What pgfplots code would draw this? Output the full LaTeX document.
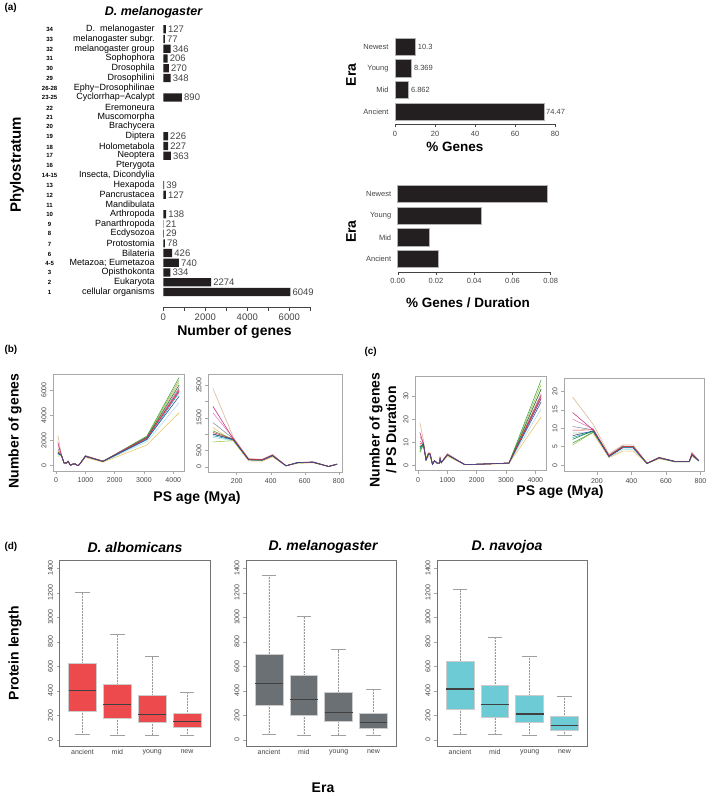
\documentclass[border=0pt]{standalone}
\usepackage{pgfplots}
\pgfplotsset{compat=1.18}
\usepackage{pgfplotstable}
\usepgfplotslibrary{statistics}
\usepackage{fontspec}
\setmainfont{Liberation Sans}
\newcommand{\ft}[1]{\fontsize{#1}{#1}\selectfont}
\newcommand{\pl}[2]{\makebox[14pt][c]{\ft{6}\bfseries #1}\makebox[98pt][r]{\ft{9}#2}}
\definecolor{barblk}{HTML}{231F20}
\definecolor{tickgray}{HTML}{444444}
\definecolor{framegray}{HTML}{A8A8A8}
\definecolor{boxred}{HTML}{EC4A4C}
\definecolor{boxgray}{HTML}{6A7073}
\definecolor{boxcyan}{HTML}{6CCBD4}
\definecolor{c1}{HTML}{D9B38C}
\definecolor{c2}{HTML}{C2307F}
\definecolor{c3}{HTML}{E07BBE}
\definecolor{c4}{HTML}{8090A8}
\definecolor{c5}{HTML}{3FA34D}
\definecolor{c6}{HTML}{9BC53D}
\definecolor{c7}{HTML}{A6DCEB}
\definecolor{c8}{HTML}{F0C05A}
\definecolor{c9}{HTML}{1FA5B0}
\definecolor{c10}{HTML}{1E7B3A}
\definecolor{c11}{HTML}{2B4A9B}
\definecolor{c12}{HTML}{E0302E}

\pgfplotstableread{
y v lab
1 6049 6049
2 2274 2274
3 334 334
4 740 740
5 426 426
6 78 78
7 29 29
8 21 21
9 138 138
11 127 127
12 39 39
15 363 363
16 227 227
17 226 226
21 890 890
23 348 348
24 270 270
25 206 206
26 346 346
27 77 77
28 127 127
}\phylo

\pgfplotstableread{
y v lab
1 74.47 74.47
2 6.862 6.862
3 8.369 8.369
4 10.3 10.3
}\pcgenes

\pgfplotstableread{
y v
1 0.0214
2 0.0166
3 0.0436
4 0.0783
}\pcdur

\pgfplotstableread{
x s1 s2 s3 s4 s5 s6 s7 s8 s9 s10 s11 s12
60 2400 1850 1650 1350 1100 760 900 1200 950 1000 1000 1050
180 900 850 880 860 840 800 800 780 820 840 830 850
270 250 220 230 240 220 210 200 180 220 220 210 230
350 230 220 210 220 210 200 190 170 210 210 200 210
410 380 350 360 360 340 330 320 300 340 350 340 350
490 35 30 30 30 30 30 28 25 30 30 30 30
560 140 130 130 130 120 120 120 110 125 130 130 130
650 150 140 150 140 130 130 130 120 135 140 140 140
740 10 10 10 10 10 10 10 8 10 10 10 10
790 90 80 80 80 75 75 75 70 80 80 80 80
1000 820 760 780 770 740 720 700 650 730 750 750 760
1600 380 350 360 350 340 340 320 280 330 350 340 350
3100 2300 2200 2250 2150 2350 2300 1900 1650 2050 2250 2100 2200
4200 6600 5900 6200 6100 7000 6800 5000 4200 5800 6400 5500 6000
}\tbb

\pgfplotstableread{
x s1 s2 s3 s4 s5 s6 s7 s8 s9 s10 s11 s12
60 18.5 14.3 12.5 10.5 6 5.5 9 8.5 7.5 7 8 9.5
180 11 9.5 9.8 9.6 9 9 8.8 8.5 9.2 9.4 9.3 9.6
270 3 2.5 2.6 2.7 2.4 2.5 2.2 2 2.4 2.5 2.3 2.5
350 5.5 5 5 5.2 4.8 5 4.2 3.8 4.8 5 4.7 5
410 5.5 5 5 5.1 4.8 5 4.3 3.8 4.8 5 4.7 5
490 0.5 0.5 0.5 0.5 0.4 0.5 0.4 0.4 0.5 0.5 0.4 0.5
560 2.2 2 2 2 1.9 2 1.8 1.7 2 2 2 2
650 1.1 1 1 1 0.9 1 0.9 0.9 1 1 1 1
735 1.1 1 1 1 0.9 1 0.9 0.9 1 1 1 1
750 3.5 3.2 3 2.9 2.7 2.8 2.5 2.4 2.8 2.9 2.8 3
790 1.3 1.2 1.2 1.2 1.1 1.2 1.1 1.1 1.2 1.2 1.2 1.2
1000 5.2 4.6 4.8 4.7 4.5 4.6 4.3 4.0 4.5 4.6 4.6 4.7
1600 0.3 0.3 0.3 0.3 0.3 0.3 0.3 0.2 0.3 0.3 0.3 0.3
3100 1.0 1.0 1.0 1.0 1.0 1.0 0.9 0.8 1.0 1.0 1.0 1.0
4200 33 29 31 30.5 37 35 24.5 21 29 33 27.5 30
}\tbc

\pgfplotsset{
 rline/.style={scale only axis, anchor=south west,
  axis line style={framegray, line width=0.5pt},
  tick align=outside, xtick pos=left, ytick pos=left,
  major tick length=3pt, tick style={framegray, line width=0.5pt},
  ticklabel style={font=\ft{7}, tickgray},
  yticklabel style={rotate=90, anchor=south},
  /pgf/number format/assume math mode=true,
  /pgf/number format/1000 sep={}},
 era/.style={scale only axis, anchor=south west, xbar,
  axis x line*=bottom, axis y line*=left,
  y axis line style={draw=none}, ytick style={draw=none},
  x axis line style={tickgray, line width=0.4pt},
  xtick style={tickgray, line width=0.4pt},
  tick align=outside, major tick length=3pt,
  ytick={1,2,3,4}, yticklabels={Ancient,Mid,Young,Newest},
  ticklabel style={font=\ft{7.5}, tickgray},
  scaled x ticks=false,
  /pgf/number format/assume math mode=true, clip=false},
 dbox/.style={scale only axis, anchor=south west, width=150.5pt, height=186pt,
  xmin=0.34, xmax=4.66, ymin=-56, ymax=1460,
  xtick={1,2,3,4}, xticklabels={ancient,mid,young,new},
  ytick={0,200,...,1400}, tick align=outside, ytick pos=left, xtick pos=left,
  xtick style={draw=none}, ytick style={gray!70},
  major tick length=3pt, axis line style={black!55, line width=0.7pt},
  ticklabel style={font=\ft{7}, tickgray},
  yticklabel style={rotate=90, anchor=south},
  xticklabel style={yshift=3.5pt},
  /pgf/number format/assume math mode=true,
  /pgf/number format/1000 sep={},
  boxplot/draw direction=y, boxplot/box extend=0.8,
  boxplot/whisker extend=0,
  boxplot/every whisker/.style={densely dotted, gray!80, line width=0.5pt},
  boxplot/every median/.style={line width=1.2pt, black!75},
  boxplot/every box/.style={draw=gray!40, line width=0.6pt}},
}

\begin{document}
\begin{tikzpicture}
\useasboundingbox (0pt,0pt) rectangle (709pt,-794pt);

% ---------- (a) left
\begin{axis}[scale only axis, anchor=south west, at={(163.3pt,-307pt)},
  width=147pt, height=284.5pt, xmin=0, xmax=7000, ymin=-0.54, ymax=28.7,
  xbar, bar width=8.2pt,
  axis x line*=bottom, axis y line*=left,
  y axis line style={draw=none}, ytick style={draw=none},
  x axis line style={tickgray, line width=0.4pt},
  xtick style={tickgray, line width=0.4pt},
  tick align=outside, major tick length=3.5pt,
  xtick={0,1000,...,7000}, xticklabels={0,,2000,,4000,,6000,},
  xticklabel style={font=\ft{9.5}, tickgray},
  ytick={1,...,28},
  yticklabels={\pl{1}{cellular organisms},\pl{2}{Eukaryota},\pl{3}{Opisthokonta},
   \pl{4-5}{Metazoa; Eumetazoa},\pl{6}{Bilateria},\pl{7}{Protostomia},\pl{8}{Ecdysozoa},
   \pl{9}{Panarthropoda},\pl{10}{Arthropoda},\pl{11}{Mandibulata},\pl{12}{Pancrustacea},
   \pl{13}{Hexapoda},{\pl{14-15}{Insecta, Dicondylia}},\pl{16}{Pterygota},\pl{17}{Neoptera},
   \pl{18}{Holometabola},\pl{19}{Diptera},\pl{20}{Brachycera},\pl{21}{Muscomorpha},
   \pl{22}{Eremoneura},\pl{23-25}{Cyclorrhap−Acalypt},\pl{26-28}{Ephy−Drosophilinae},
   \pl{29}{Drosophilini},\pl{30}{Drosophila},\pl{31}{Sophophora},\pl{32}{melanogaster group},
   \pl{33}{melanogaster subgr.},\pl{34}{D.\ \ melanogaster}},
  yticklabel style={inner sep=0pt, xshift=-5pt},
  /pgf/number format/assume math mode=true, clip=false]
\addplot[fill=barblk, draw=none, nodes near coords, nodes near coords align={horizontal},
  point meta=explicit symbolic,
  nodes near coords style={font=\ft{9.5}, text=tickgray, anchor=west, inner sep=2pt}]
  table[x=v, y=y, meta=lab] {\phylo};
\end{axis}

% ---------- (a) right top
\begin{axis}[era, at={(395pt,-124.3pt)}, width=160pt, height=90.6pt,
  xmin=0, xmax=80, ymin=0.42, ymax=4.6, bar width=17.3pt,
  xtick={0,20,...,80}]
\addplot[fill=barblk, draw=gray!60, line width=0.6pt, nodes near coords,
  nodes near coords align={horizontal}, point meta=explicit symbolic,
  nodes near coords style={font=\ft{7.5}, text=tickgray, anchor=west, inner sep=2pt}]
  table[x=v, y=y, meta=lab] {\pcgenes};
\end{axis}

% ---------- (a) right bottom
\begin{axis}[era, at={(397.7pt,-271.7pt)}, width=153pt, height=90.7pt,
  xmin=0, xmax=0.08, ymin=0.414, ymax=4.6, bar width=17.3pt,
  xtick={0,0.02,0.04,0.06,0.08},
  xticklabels={0.00,0.02,0.04,0.06,0.08}]
\addplot[fill=barblk, draw=gray!60, line width=0.6pt] table[x=v, y=y] {\pcdur};
\end{axis}

% ---------- (b) left
\begin{axis}[rline, at={(53pt,-471pt)}, width=131pt, height=97pt,
  xmin=-106, xmax=4366, ymin=-420, ymax=7270,
  xtick={0,1000,...,4000}, ytick={0,2000,4000,6000}]
\pgfplotsinvokeforeach{7,8,1,6,5,3,4,9,10,2,12,11}{
  \addplot[c#1, line width=0.55pt] table[x=x, y=s#1] {\tbb};}
\end{axis}

% ---------- (b) right
\begin{axis}[rline, at={(208pt,-472pt)}, width=134pt, height=98pt,
  xmin=31, xmax=819, ymin=-160, ymax=2840,
  xtick={200,400,600,800}, ytick={0,500,...,2500},
  yticklabels={0,500,,1500,,2500}, restrict x to domain=0:800]
\pgfplotsinvokeforeach{7,8,1,6,5,3,4,9,10,2,12,11}{
  \addplot[c#1, line width=0.55pt] table[x=x, y=s#1] {\tbb};}
\end{axis}

% ---------- (c) left
\begin{axis}[rline, at={(415pt,-470.7pt)}, width=131pt, height=94pt,
  xmin=-106, xmax=4366, ymin=-2.3, ymax=38.4,
  xtick={0,1000,...,4000}, ytick={0,10,20,30}]
\pgfplotsinvokeforeach{7,8,1,6,5,3,4,9,10,2,12,11}{
  \addplot[c#1, line width=0.55pt] table[x=x, y=s#1] {\tbc};}
\end{axis}

% ---------- (c) right
\begin{axis}[rline, at={(564pt,-471.7pt)}, width=140pt, height=93.7pt,
  xmin=10, xmax=820, ymin=-1.8, ymax=23.7,
  xtick={200,400,600,800}, ytick={0,5,...,20}, restrict x to domain=0:800]
\pgfplotsinvokeforeach{7,8,1,6,5,3,4,9,10,2,12,11}{
  \addplot[c#1, line width=0.55pt] table[x=x, y=s#1] {\tbc};}
\end{axis}

% ---------- (d) albomicans
\begin{axis}[dbox, at={(59.5pt,-746.7pt)}]
\addplot[fill=boxred, boxplot prepared={draw position=1, lower whisker=46, lower quartile=235, median=401, upper quartile=622, upper whisker=1200}] coordinates {};
\addplot[fill=boxred, boxplot prepared={draw position=2, lower whisker=41, lower quartile=177, median=286, upper quartile=450, upper whisker=859}] coordinates {};
\addplot[fill=boxred, boxplot prepared={draw position=3, lower whisker=41, lower quartile=145, median=205, upper quartile=360, upper whisker=679}] coordinates {};
\addplot[fill=boxred, boxplot prepared={draw position=4, lower whisker=41, lower quartile=101, median=147, upper quartile=215, upper whisker=390}] coordinates {};
\addplot[only marks, mark=-, mark size=7.2pt, mark options={gray!75, line width=0.6pt}]
  coordinates {(1,1200)(1,46)(2,859)(2,41)(3,679)(3,41)(4,390)(4,41)};
\end{axis}

% ---------- (d) melanogaster
\begin{axis}[dbox, at={(246pt,-746.7pt)}]
\addplot[fill=boxgray, boxplot prepared={draw position=1, lower whisker=46, lower quartile=281, median=458, upper quartile=701, upper whisker=1344}] coordinates {};
\addplot[fill=boxgray, boxplot prepared={draw position=2, lower whisker=38, lower quartile=199, median=327, upper quartile=524, upper whisker=1006}] coordinates {};
\addplot[fill=boxgray, boxplot prepared={draw position=3, lower whisker=38, lower quartile=155, median=226, upper quartile=390, upper whisker=736}] coordinates {};
\addplot[fill=boxgray, boxplot prepared={draw position=4, lower whisker=35, lower quartile=90, median=139, upper quartile=215, upper whisker=409}] coordinates {};
\addplot[only marks, mark=-, mark size=7.2pt, mark options={gray!75, line width=0.6pt}]
  coordinates {(1,1344)(1,46)(2,1006)(2,38)(3,736)(3,38)(4,409)(4,35)};
\end{axis}

% ---------- (d) navojoa
\begin{axis}[dbox, at={(437pt,-746.7pt)}]
\addplot[fill=boxcyan, boxplot prepared={draw position=1, lower whisker=46, lower quartile=251, median=415, upper quartile=644, upper whisker=1227}] coordinates {};
\addplot[fill=boxcyan, boxplot prepared={draw position=2, lower whisker=49, lower quartile=180, median=286, upper quartile=445, upper whisker=832}] coordinates {};
\addplot[fill=boxcyan, boxplot prepared={draw position=3, lower whisker=41, lower quartile=139, median=210, upper quartile=360, upper whisker=682}] coordinates {};
\addplot[fill=boxcyan, boxplot prepared={draw position=4, lower whisker=41, lower quartile=79, median=117, upper quartile=191, upper whisker=355}] coordinates {};
\addplot[only marks, mark=-, mark size=7.2pt, mark options={gray!75, line width=0.6pt}]
  coordinates {(1,1227)(1,46)(2,832)(2,49)(3,682)(3,41)(4,355)(4,41)};
\end{axis}

% ---------- texts
\node[font=\ft{10}\bfseries, anchor=west] at (1pt,-8pt) {(a)};
\node[font=\ft{12.5}\bfseries\itshape] at (153.5pt,-12pt) {D. melanogaster};
\node[font=\ft{15}\bfseries, rotate=90] at (17pt,-165pt) {Phylostratum};
\node[font=\ft{14}\bfseries] at (234.5pt,-332pt) {Number of genes};
\node[font=\ft{14}\bfseries, rotate=90] at (351pt,-75pt) {Era};
\node[font=\ft{13.5}\bfseries] at (455pt,-146.7pt) {\% Genes};
\node[font=\ft{14}\bfseries, rotate=90] at (351pt,-231.7pt) {Era};
\node[font=\ft{13.5}\bfseries] at (468pt,-302.7pt) {\% Genes / Duration};

\node[font=\ft{10}\bfseries, anchor=west] at (1pt,-350pt) {(b)};
\node[font=\ft{14}\bfseries, rotate=90] at (15pt,-431pt) {Number of genes};
\node[font=\ft{14}\bfseries] at (197pt,-498pt) {PS age (Mya)};

\node[font=\ft{10}\bfseries, anchor=west] at (361pt,-351.7pt) {(c)};
\node[font=\fontsize{14}{16.5}\selectfont\bfseries, rotate=90, align=center] at (383pt,-430pt) {Number of genes\\/ PS Duration};
\node[font=\ft{14}\bfseries] at (560pt,-491.7pt) {PS age (Mya)};

\node[font=\ft{10}\bfseries, anchor=west] at (1pt,-547pt) {(d)};
\node[font=\ft{14}\bfseries\itshape] at (135pt,-547pt) {D. albomicans};
\node[font=\ft{14}\bfseries\itshape] at (323pt,-547pt) {D. melanogaster};
\node[font=\ft{14}\bfseries\itshape] at (507pt,-547pt) {D. navojoa};
\node[font=\ft{14}\bfseries, rotate=90] at (15pt,-653pt) {Protein length};
\node[font=\ft{14}\bfseries, anchor=base, inner sep=0pt] at (323pt,-792.5pt) {Era};
\end{tikzpicture}
\end{document}
